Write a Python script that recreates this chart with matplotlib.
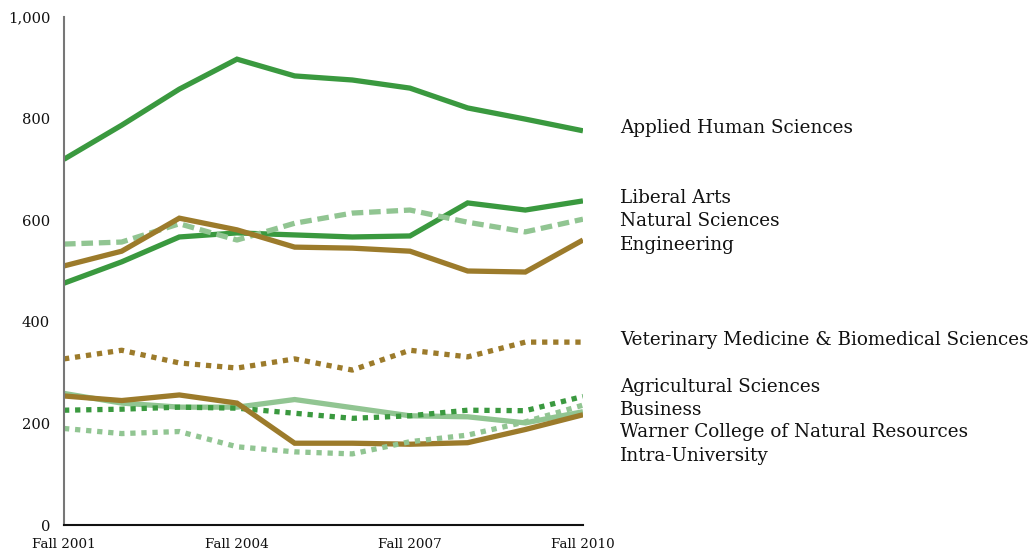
import matplotlib
matplotlib.use("Agg")
import matplotlib.pyplot as plt
from matplotlib.ticker import FuncFormatter

years = ["Fall 2001", "Fall 2002", "Fall 2003", "Fall 2004", "Fall 2005",
         "Fall 2006", "Fall 2007", "Fall 2008", "Fall 2009", "Fall 2010"]
xtick_labels = ["Fall 2001", "Fall 2004", "Fall 2007", "Fall 2010"]

applied_human = [720, 787, 858, 917, 884, 876, 860, 821, 799, 776]
liberal_arts = [476, 518, 567, 575, 571, 567, 569, 634, 620, 638]
natural_sciences = [553, 557, 593, 561, 594, 614, 620, 596, 577, 602]
engineering = [510, 539, 604, 581, 547, 545, 539, 500, 498, 561]
vet_med = [327, 344, 319, 309, 327, 305, 344, 331, 360, 360]
agricultural = [259, 240, 232, 232, 247, 231, 215, 213, 201, 223]
business = [226, 228, 232, 230, 220, 210, 215, 226, 225, 253]
warner = [254, 245, 256, 240, 161, 161, 159, 162, 188, 217]
intra = [190, 180, 184, 154, 144, 140, 164, 177, 203, 236]

names = ["Applied Human Sciences", "Liberal Arts", "Natural Sciences", "Engineering",
         "Veterinary Medicine & Biomedical Sciences", "Agricultural Sciences", "Business",
         "Warner College of Natural Resources", "Intra-University"]
series = [applied_human, liberal_arts, natural_sciences, engineering, vet_med,
          agricultural, business, warner, intra]

DARK = "#3a993f"
LIGHT = "#91c592"
GOLD = "#9c7b2b"
styles = [
    (DARK, "solid"), (DARK, "solid"), (LIGHT, (0, (2.2, 1.1))), (GOLD, "solid"),
    (GOLD, (0, (1.0, 1.1))), (LIGHT, "solid"), (DARK, (0, (1.0, 1.1))),
    (GOLD, "solid"), (LIGHT, (0, (1.0, 1.1))),
]
label_y = [782, 643, 599, 552, 365, 271, 226, 183, 136]

fig = plt.figure(figsize=(10.34, 5.52), dpi=100)
ax = fig.add_axes([0.0619, 0.0489, 0.5019, 0.9203])
xs = list(range(len(years)))
for vals, (c, ls) in zip(series, styles):
    ax.plot(xs, vals, color=c, linestyle=ls, linewidth=3.8, solid_capstyle="butt",
            dash_capstyle="butt", solid_joinstyle="miter")

serif = ["DejaVu Serif"]
for name, y in zip(names, label_y):
    ax.annotate(name, xy=(1.0, y), xycoords=("axes fraction", "data"),
                xytext=(37, 0), textcoords="offset pixels", va="center", ha="left",
                fontsize=13.25, family=serif, color="#111111", annotation_clip=False)

ax.set_xlim(0, 9)
ax.set_ylim(0, 1000)
ax.set_yticks([0, 200, 400, 600, 800, 1000])
ax.yaxis.set_major_formatter(FuncFormatter(lambda v, p: f"{int(v):,}"))
ax.set_xticks([years.index(t) for t in xtick_labels])
ax.set_xticklabels(xtick_labels)
ax.tick_params(axis="both", length=0)
ax.tick_params(axis="y", pad=10, labelsize=10.6)
ax.tick_params(axis="x", pad=9, labelsize=9.7)
for lab in ax.get_xticklabels() + ax.get_yticklabels():
    lab.set_family(serif)
    lab.set_color("#111111")
ax.spines["top"].set_visible(False)
ax.spines["right"].set_visible(False)
ax.spines["left"].set_color("#777777")
ax.spines["left"].set_linewidth(1.5)
ax.spines["bottom"].set_color("#111111")
ax.spines["bottom"].set_linewidth(1.5)

fig.savefig("out.png", dpi=100)
